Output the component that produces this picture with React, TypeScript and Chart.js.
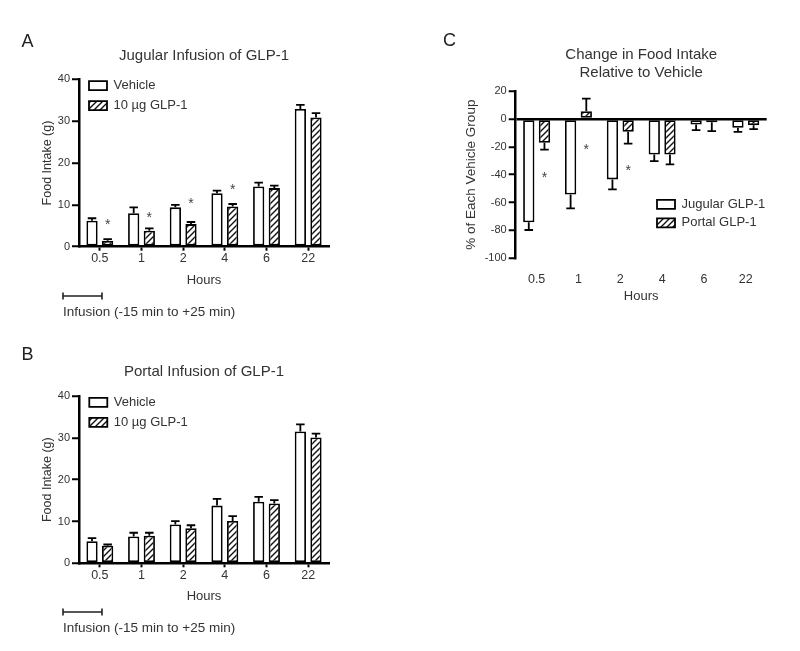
import React, { useEffect, useRef } from 'react';
import { Chart, registerables } from 'chart.js';

Chart.register(...registerables);

// ---------- data ----------
const hours = ['0.5', '1', '2', '4', '6', '22'];

// Panel A: jugular infusion (food intake, g)
const jugVehicle = [6.2, 8.0, 9.4, 12.8, 14.4, 32.9];
const jugVehicleErr = [0.6, 1.4, 0.6, 0.6, 0.9, 1.0];
const jugGlp = [1.4, 3.8, 5.4, 9.6, 14.0, 30.9];
const jugGlpErr = [0.4, 0.6, 0.5, 0.6, 0.6, 1.0];
const jugStars = [5.8, 7.6, 10.8, 14.2, null, null];

// Panel B: portal infusion (food intake, g)
const portVehicle = [5.3, 6.4, 9.3, 13.8, 14.7, 31.5];
const portVehicleErr = [0.7, 0.9, 0.8, 1.6, 1.2, 1.7];
const portGlp = [4.2, 6.6, 8.4, 10.1, 14.3, 30.1];
const portGlpErr = [0.3, 0.7, 0.7, 1.2, 0.8, 0.9];
const portStars = [null, null, null, null, null, null];

// Panel C: change relative to vehicle (%)
const chgJugular = [-74.2, -54.2, -43.4, -25.5, -4.0, -6.4];
const chgJugularErr = [5.5, 10.0, 7.2, 4.8, 4.1, 2.9];
const chgPortal = [-17.2, 5.5, -9.3, -25.5, -2.4, -4.5];
const chgPortalErr = [4.8, 9.1, 8.4, 7.2, 6.4, 2.9];
const chgStars = [-40, -20.5, -35.6, null, null, null];

const intakeTicks = [0, 10, 20, 30, 40];
const changeTicks = [-100, -80, -60, -40, -20, 0, 20];

// ---------- styling ----------
const FONT = "'Liberation Sans', Arial, Helvetica, sans-serif";
const TEXT = '#333';

type Spec = {
  letter: string; letterX: number; letterY: number;
  title: string | string[];
  titleGap: number;
  yTitle: string; yTitleSize: number; yTitlePad: number;
  labels: [string, string];
  values: [number[], number[]];
  errors: [number[], number[]];
  stars: (number | null)[];
  ticks: number[];
  pad: { left: number; right: number; top: number; bottom: number };
  yWidth: number; xHeight: number;
  xTickMarks: boolean; xTickPad: number; zeroLine: boolean;
  legendDX: number; legendDY: number; legendPad: number;
  infusion: null | { x1: number; x2: number; y: number; textY: number };
};

function makeHatch(): CanvasPattern | string {
  const c = document.createElement('canvas');
  c.width = 6; c.height = 6;
  const g = c.getContext('2d');
  if (!g) return '#fff';
  g.fillStyle = '#fff';
  g.fillRect(0, 0, 6, 6);
  g.strokeStyle = '#111';
  g.lineWidth = 1.4;
  g.beginPath();
  g.moveTo(0, 6); g.lineTo(6, 0);
  g.moveTo(-3, 3); g.lineTo(3, -3);
  g.moveTo(3, 9); g.lineTo(9, 3);
  g.stroke();
  return g.createPattern(c, 'repeat') || '#fff';
}

function buildConfig(spec: Spec): any {
  const hatch = makeHatch();
  const tMin = spec.ticks[0];
  const tMax = spec.ticks[spec.ticks.length - 1];
  const step = spec.ticks[1] - spec.ticks[0];

  const decor = {
    id: 'decor',
    afterLayout(chart: any) {
      const lg = chart.legend;
      const ca = chart.chartArea;
      if (!lg) return;
      const left = ca.left + spec.legendDX - spec.legendPad;
      const top = ca.top + spec.legendDY - 6.5 - spec.legendPad;
      lg.left = left; lg.top = top;
      lg.width = 260; lg.height = 80;
      lg.right = left + 260; lg.bottom = top + 80;
    },
    afterDatasetsDraw(chart: any) {
      const ctx = chart.ctx;
      const ys = chart.scales.y;
      ctx.save();
      ctx.strokeStyle = '#000';
      ctx.lineWidth = 1.8;
      chart.data.datasets.forEach((ds: any, di: number) => {
        const meta = chart.getDatasetMeta(di);
        const errs = spec.errors[di];
        meta.data.forEach((bar: any, i: number) => {
          const v = ds.data[i];
          const e = errs[i];
          const p = bar.getProps(['x', 'y', 'width'], true);
          const dir = v >= 0 ? 1 : -1;
          const yEnd = ys.getPixelForValue(v + dir * e);
          const cap = p.width * 0.38;
          ctx.beginPath();
          ctx.moveTo(p.x, p.y);
          ctx.lineTo(p.x, yEnd);
          ctx.moveTo(p.x - cap, yEnd);
          ctx.lineTo(p.x + cap, yEnd);
          ctx.stroke();
        });
      });
      // significance asterisks over/under the second series
      const meta1 = chart.getDatasetMeta(1);
      ctx.fillStyle = '#444';
      ctx.font = `14px ${FONT}`;
      ctx.textAlign = 'center';
      ctx.textBaseline = 'middle';
      spec.stars.forEach((s, i) => {
        if (s === null) return;
        const bar = meta1.data[i];
        const p = bar.getProps(['x'], true);
        ctx.fillText('*', p.x, ys.getPixelForValue(s) + 3);
      });
      ctx.restore();
    },
    afterDraw(chart: any) {
      const ctx = chart.ctx;
      ctx.save();
      ctx.fillStyle = '#222';
      ctx.font = `18px ${FONT}`;
      ctx.textAlign = 'left';
      ctx.textBaseline = 'middle';
      ctx.fillText(spec.letter, spec.letterX, spec.letterY);
      if (spec.infusion) {
        const inf = spec.infusion;
        ctx.strokeStyle = '#222';
        ctx.lineWidth = 1.6;
        ctx.beginPath();
        ctx.moveTo(inf.x1, inf.y); ctx.lineTo(inf.x2, inf.y);
        ctx.moveTo(inf.x1, inf.y - 3.5); ctx.lineTo(inf.x1, inf.y + 3.5);
        ctx.moveTo(inf.x2, inf.y - 3.5); ctx.lineTo(inf.x2, inf.y + 3.5);
        ctx.stroke();
        ctx.fillStyle = TEXT;
        ctx.font = `13.5px ${FONT}`;
        ctx.fillText('Infusion (-15 min to +25 min)', inf.x1, inf.textY);
      }
      ctx.restore();
    },
  };

  return {
    type: 'bar',
    data: {
      labels: hours,
      datasets: [
        {
          label: spec.labels[0],
          data: spec.values[0],
          backgroundColor: '#fff',
          borderColor: '#000',
          borderWidth: 1.8,
          borderSkipped: false,
          categoryPercentage: 0.75,
          barPercentage: 0.72,
        },
        {
          label: spec.labels[1],
          data: spec.values[1],
          backgroundColor: hatch,
          borderColor: '#000',
          borderWidth: 1.8,
          borderSkipped: false,
          categoryPercentage: 0.75,
          barPercentage: 0.72,
        },
      ],
    },
    options: {
      responsive: false,
      maintainAspectRatio: false,
      animation: false,
      devicePixelRatio: 1,
      events: [],
      layout: { padding: spec.pad, autoPadding: true },
      plugins: {
        tooltip: { enabled: false },
        title: {
          display: true,
          text: spec.title,
          color: TEXT,
          fullSize: false,
          font: { size: 15, family: FONT, weight: 'normal', lineHeight: 1.2 },
          padding: { top: 0, bottom: spec.titleGap },
        },
        legend: {
          display: true,
          position: 'chartArea',
          align: 'start',
          labels: {
            boxWidth: 18,
            boxHeight: 9,
            padding: spec.legendPad,
            color: TEXT,
            font: { size: 13, family: FONT },
          },
        },
      },
      scales: {
        x: {
          type: 'category',
          afterFit: (s: any) => { s.height = spec.xHeight; },
          border: { display: spec.xTickMarks, color: '#000', width: 2.5 },
          grid: {
            display: spec.xTickMarks,
            drawOnChartArea: false,
            drawTicks: spec.xTickMarks,
            tickLength: 4,
            tickColor: '#000',
            tickWidth: 2,
            color: '#000',
            offset: false,
          },
          ticks: {
            color: TEXT,
            font: { size: 12.5, family: FONT, lineHeight: 1 },
            padding: spec.xTickPad,
            maxRotation: 0,
            autoSkip: false,
          },
          title: {
            display: true,
            text: 'Hours',
            color: TEXT,
            font: { size: 13, family: FONT, lineHeight: 1.2 },
            padding: 0,
          },
        },
        y: {
          type: 'linear',
          min: tMin,
          max: tMax,
          afterFit: (s: any) => { s.width = spec.yWidth; },
          border: { display: true, color: '#000', width: 2.5 },
          grid: {
            display: true,
            drawOnChartArea: spec.zeroLine,
            drawTicks: true,
            tickLength: 7,
            tickColor: '#000',
            tickWidth: 2,
            color: (c: any) => (spec.zeroLine && c.tick && c.tick.value === 0 ? '#000' : 'rgba(0,0,0,0)'),
            lineWidth: 2.5,
          },
          ticks: {
            stepSize: step,
            color: TEXT,
            font: { size: 11, family: FONT },
            padding: 2,
          },
          title: {
            display: true,
            text: spec.yTitle,
            color: TEXT,
            font: { size: spec.yTitleSize, family: FONT, lineHeight: 1.2 },
            padding: { top: spec.yTitlePad, bottom: 0 },
          },
        },
      },
    },
    plugins: [decor],
  };
}

const specA: Spec = {
  letter: 'A', letterX: 21.5, letterY: 42,
  title: 'Jugular Infusion of GLP-1', titleGap: 14,
  yTitle: 'Food Intake (g)', yTitleSize: 12.5, yTitlePad: 40.5,
  labels: ['Vehicle', '10 \u00b5g GLP-1'],
  values: [jugVehicle, jugGlp], errors: [jugVehicleErr, jugGlpErr],
  stars: jugStars, ticks: intakeTicks,
  pad: { left: 0, right: 471, top: 47.3, bottom: 363.2 },
  yWidth: 79, xHeight: 41.1,
  xTickMarks: true, xTickPad: 2, zeroLine: false,
  legendDX: 10, legendDY: 6.4, legendPad: 7,
  infusion: { x1: 63, x2: 102, y: 296, textY: 312 },
};

const specB: Spec = {
  letter: 'B', letterX: 21.5, letterY: 355,
  title: 'Portal Infusion of GLP-1', titleGap: 15,
  yTitle: 'Food Intake (g)', yTitleSize: 12.5, yTitlePad: 40.5,
  labels: ['Vehicle', '10 \u00b5g GLP-1'],
  values: [portVehicle, portGlp], errors: [portVehicleErr, portGlpErr],
  stars: portStars, ticks: intakeTicks,
  pad: { left: 0, right: 471, top: 363, bottom: 46.5 },
  yWidth: 79, xHeight: 41.2,
  xTickMarks: true, xTickPad: 2, zeroLine: false,
  legendDX: 10.3, legendDY: 6.4, legendPad: 7,
  infusion: { x1: 63, x2: 102, y: 612, textY: 628 },
};

const specC: Spec = {
  letter: 'C', letterX: 443, letterY: 41.5,
  title: ['Change in Food Intake', 'Relative to Vehicle'], titleGap: 9,
  yTitle: '% of Each Vehicle Group', yTitleSize: 13.5, yTitlePad: 63.6,
  labels: ['Jugular GLP-1', 'Portal GLP-1'],
  values: [chgJugular, chgPortal], errors: [chgJugularErr, chgPortalErr],
  stars: chgStars, ticks: changeTicks,
  pad: { left: 400, right: 33.3, top: 46, bottom: 346.5 },
  yWidth: 115.7, xHeight: 46.2,
  xTickMarks: false, xTickPad: 14.5, zeroLine: true,
  legendDX: 141.3, legendDY: 113.3, legendPad: 5.5,
  infusion: null,
};

function Panel({ spec }: { spec: Spec }) {
  const ref = useRef<HTMLCanvasElement>(null);
  useEffect(() => {
    if (!ref.current) return;
    const chart = new Chart(ref.current, buildConfig(spec));
    return () => chart.destroy();
  }, [spec]);
  return (
    <canvas
      ref={ref}
      width={800}
      height={651}
      style={{ position: 'absolute', left: 0, top: 0, width: 800, height: 651 }}
    />
  );
}

export default function App() {
  return (
    <div style={{ position: 'fixed', left: 0, top: 0, width: 800, height: 651, background: '#fff', overflow: 'hidden' }}>
      <Panel spec={specA} />
      <Panel spec={specB} />
      <Panel spec={specC} />
    </div>
  );
}
